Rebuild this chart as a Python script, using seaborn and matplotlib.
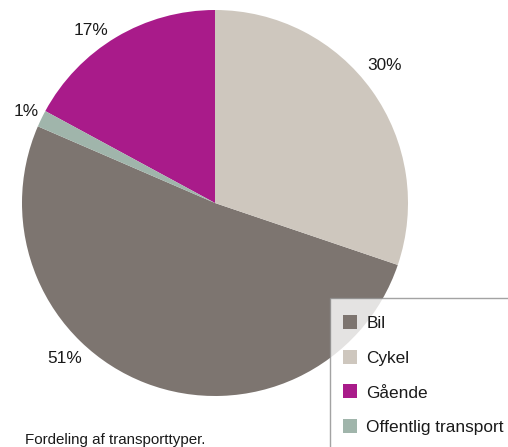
import numpy as np
import matplotlib.pyplot as plt
from matplotlib.lines import Line2D
import seaborn as sns

# data
categories = ["Bil", "Cykel", "Gående", "Offentlig transport"]
shares = [51.3, 30.2, 17.1, 1.4]
pct_labels = ["51%", "30%", "17%", "1%"]
colors = ["#7d7570", "#cec7be", "#a91b8a", "#a0b5ab"]

# small nudges for the percent labels (angle in degrees, radius)
label_shift = [-23, 3.5, 5, 0]
label_radius = [1.12, 1.13, 1.10, 1.09]

sns.set_style("white")
plt.rcParams['font.family'] = ['Liberation Sans', 'DejaVu Sans']

fig = plt.figure(figsize=(5.08, 4.47), dpi=100)
ax = fig.add_axes([22 / 508, 1 - 396 / 447, 386 / 508, 386 / 447])

start = 90 - (shares[0] + shares[1]) / sum(shares) * 360
wedges, _ = ax.pie(shares, colors=colors, startangle=start, counterclock=True,
                   radius=1, wedgeprops=dict(linewidth=0))
ax.set_xlim(-1, 1)
ax.set_ylim(-1, 1)
ax.set_aspect('equal')
ax.axis('off')

for w, lab, sh, r in zip(wedges, pct_labels, label_shift, label_radius):
    mid = np.deg2rad((w.theta1 + w.theta2) / 2 + sh)
    ax.text(r * np.cos(mid), r * np.sin(mid), lab, ha='center', va='center',
            fontsize=12.4, color='#1a1a1a')

handles = [Line2D([], [], marker='s', linestyle='none', markersize=10,
                  markerfacecolor=c, markeredgewidth=0) for c in colors]
leg = fig.legend(handles, categories, loc='upper left',
                 bbox_to_anchor=(330 / 508, 1 - 298 / 447), fontsize=12.4,
                 frameon=True, fancybox=False, borderpad=1.05, handlelength=0.25,
                 handletextpad=0.8, labelspacing=1.14, borderaxespad=0)
leg.get_frame().set_edgecolor('#8c8c8c')
leg.get_frame().set_linewidth(1.0)
for t in leg.get_texts():
    t.set_color('#1a1a1a')

fig.text(25 / 508, 1 - 444 / 447, "Fordeling af transporttyper.", fontsize=10.9,
         ha='left', va='baseline', color='#1a1a1a')

fig.savefig("out.png", dpi=100)
